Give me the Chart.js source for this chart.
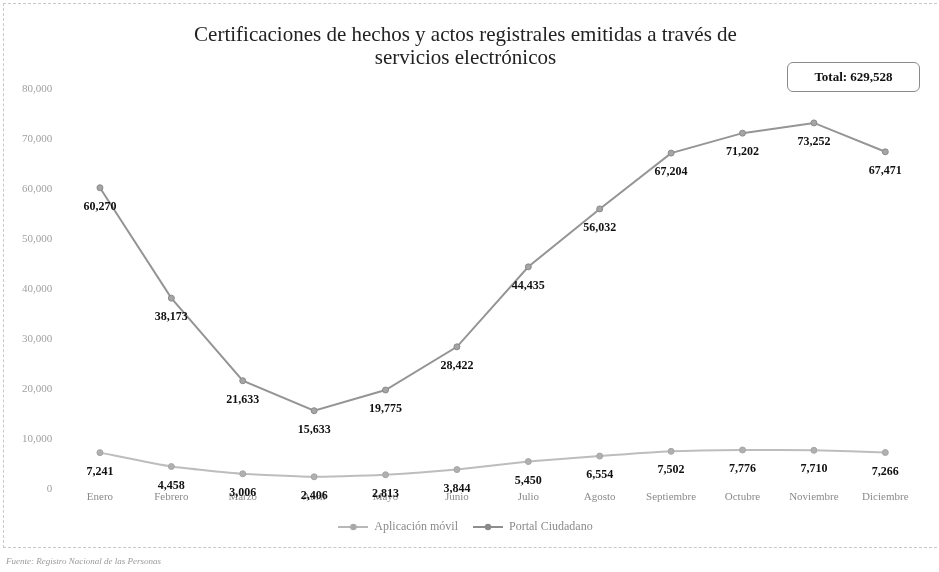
<!DOCTYPE html>
<html>
<head>
<meta charset="utf-8">
<script src="https://cdn.jsdelivr.net/npm/chart.js@4/dist/chart.umd.min.js"></script>
<style>
  html, body { margin: 0; padding: 0; background: #fff; }
  #wrap { position: relative; width: 939px; height: 572px; overflow: hidden; }
  #frame { position: absolute; left: 3px; top: 3px; width: 934px; height: 545px;
           border-top: 1px dashed #c8c8c8; border-left: 1px dashed #c8c8c8; border-bottom: 1px dashed #c8c8c8; box-sizing: border-box; }
  #total { position: absolute; left: 787px; top: 62px; width: 133px; height: 30px; box-sizing: border-box;
           border: 1px solid #8a8a8a; border-radius: 6px; font: bold 13px "Liberation Serif", serif; color: #111;
           display: flex; align-items: center; justify-content: center; }
  #source { position: absolute; left: 6px; top: 556px; font: italic 9px "Liberation Serif", serif; color: #9a9a9a; }
  canvas { position: absolute; left: 0; top: 0; }
</style>
</head>
<body>
<div id="wrap">
  <canvas id="c" width="939" height="572"></canvas>
  <div id="frame"></div>
  <div id="total">Total: 629,528</div>
  <div id="source">Fuente: Registro Nacional de las Personas</div>
</div>
<script>
const titleLines = ["Certificaciones de hechos y actos registrales emitidas a través de", "servicios electrónicos"];
const months = ["Enero","Febrero","Marzo","Abril","Mayo","Junio","Julio","Agosto","Septiembre","Octubre","Noviembre","Diciembre"];
const seriesNames = ["Aplicación móvil", "Portal Ciudadano"];
const appMovil = [7241, 4458, 3006, 2406, 2813, 3844, 5450, 6554, 7502, 7776, 7710, 7266];
const portalCiudadano = [60270, 38173, 21633, 15633, 19775, 28422, 44435, 56032, 67204, 71202, 73252, 67471];
const yTicksMax = 80000;
const yTicksStep = 10000;

function legendIcon(lineColor, pointColor) {
  const cv = document.createElement('canvas');
  cv.width = 30; cv.height = 10;
  const g = cv.getContext('2d');
  g.strokeStyle = lineColor; g.lineWidth = 2;
  g.beginPath(); g.moveTo(0, 5); g.lineTo(30, 5); g.stroke();
  g.fillStyle = pointColor; g.beginPath(); g.arc(15, 5, 3.2, 0, Math.PI * 2); g.fill();
  return cv;
}

const dataLabels = {
  id: 'dataLabels',
  afterDatasetsDraw(chart) {
    const ctx = chart.ctx;
    ctx.save();
    ctx.font = 'bold 12px "Liberation Serif", serif';
    ctx.fillStyle = '#111';
    ctx.textAlign = 'center';
    ctx.textBaseline = 'middle';
    chart.data.datasets.forEach((ds, i) => {
      const meta = chart.getDatasetMeta(i);
      meta.data.forEach((pt, j) => {
        ctx.fillText(ds.data[j].toLocaleString('en-US'), pt.x, pt.y + 19);
      });
    });
    ctx.restore();
  }
};

const icons = [legendIcon('#b8b8b8', '#a8a8a8'), legendIcon('#8e8e8e', '#8a8a8a')];

new Chart(document.getElementById('c'), {
  type: 'line',
  data: {
    labels: months,
    datasets: [
      { label: seriesNames[0], data: appMovil, borderColor: '#bdbdbd', backgroundColor: '#b0b0b0',
        borderWidth: 2, pointRadius: 3, pointBorderWidth: 1, pointBorderColor: '#a5a5a5', pointStyle: 'circle', tension: 0.15 },
      { label: seriesNames[1], data: portalCiudadano, borderColor: '#959595', backgroundColor: '#a5a5a5',
        borderWidth: 2, pointRadius: 3, pointBorderWidth: 1, pointBorderColor: '#8a8a8a', pointStyle: 'circle', tension: 0 }
    ]
  },
  options: {
    responsive: false,
    animation: false,
    layout: { padding: { left: 10, right: 18, top: 0, bottom: 29 } },
    plugins: {
      title: { display: true, text: titleLines, color: '#222',
        font: { family: '"Liberation Serif", serif', size: 21, weight: 'normal', lineHeight: 1.1 },
        padding: { top: 24, bottom: 19 } },
      legend: { position: 'bottom',
        labels: { usePointStyle: true, pointStyleWidth: 30, color: '#8a8a8a', font: { family: '"Liberation Serif", serif', size: 12 }, padding: 15,
          generateLabels(chart) {
            return chart.data.datasets.map((ds, i) => ({
              text: ds.label, pointStyle: icons[i], fillStyle: ds.borderColor, strokeStyle: ds.borderColor,
              lineWidth: 0, hidden: false, datasetIndex: i, fontColor: '#8a8a8a'
            }));
          } } },
      tooltip: { enabled: false }
    },
    scales: {
      x: { offset: true, grid: { display: false, drawTicks: false }, border: { display: false },
        ticks: { color: '#8a8a8a', padding: 2, font: { family: '"Liberation Serif", serif', size: 11 } } },
      y: { min: 0, max: yTicksMax, grid: { display: false, drawTicks: false }, border: { display: false },
        ticks: { stepSize: yTicksStep, color: '#a0a0a0', padding: 12,
          font: { family: '"Liberation Serif", serif', size: 11 },
          callback: v => v.toLocaleString('en-US') } }
    }
  },
  plugins: [dataLabels]
});
</script>
</body>
</html>
